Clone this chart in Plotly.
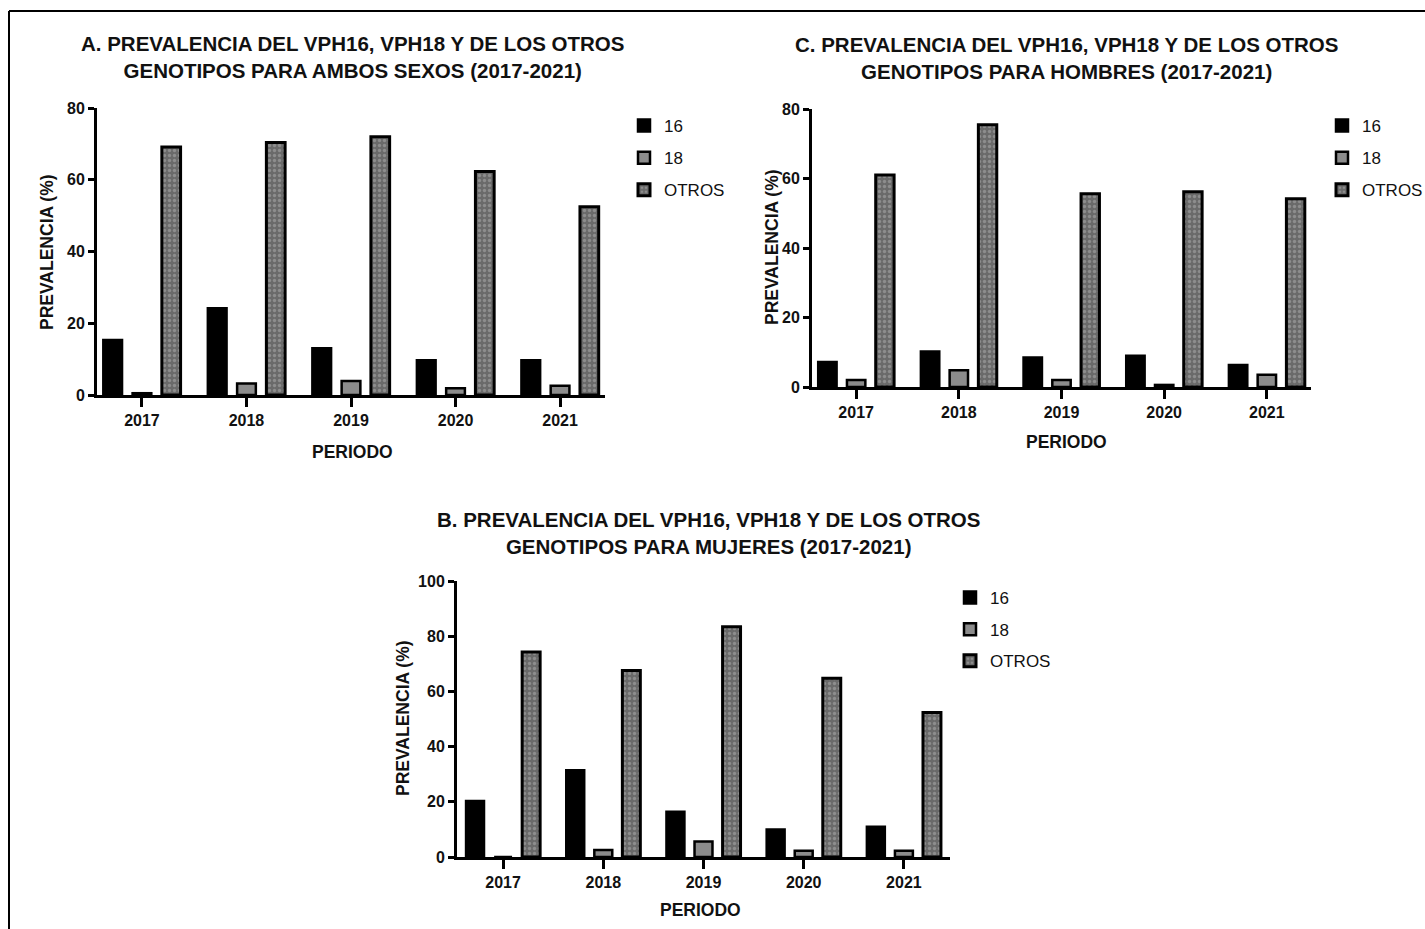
import plotly.graph_objects as go

years = ["2017", "2018", "2019", "2020", "2021"]
series_names = ["16", "18", "OTROS"]

# Panel A: ambos sexos
a_16 = [15.3, 24.2, 13.0, 9.7, 9.7]
a_18 = [0.5, 3.2, 3.9, 1.9, 2.6]
a_otros = [69.1, 70.4, 72.0, 62.3, 52.5]

# Panel C: hombres
c_16 = [7.2, 10.2, 8.5, 9.0, 6.3]
c_18 = [2.0, 4.8, 2.0, 0.6, 3.5]
c_otros = [61.0, 75.5, 55.6, 56.2, 54.2]

# Panel B: mujeres
b_16 = [20.3, 31.4, 16.4, 10.0, 11.0]
b_18 = [0.0, 2.5, 5.6, 2.3, 2.3]
b_otros = [74.3, 67.6, 83.4, 64.8, 52.4]

title_a = "A. PREVALENCIA DEL VPH16, VPH18 Y DE LOS OTROS<br>GENOTIPOS PARA AMBOS SEXOS (2017-2021)"
title_c = "C. PREVALENCIA DEL VPH16, VPH18 Y DE LOS OTROS<br>GENOTIPOS PARA HOMBRES (2017-2021)"
title_b = "B. PREVALENCIA DEL VPH16, VPH18 Y DE LOS OTROS<br>GENOTIPOS PARA MUJERES (2017-2021)"
y_title = "PREVALENCIA (%)"
x_title = "PERIODO"

W, H = 1425, 929
FONT = "Liberation Sans, Arial, sans-serif"

def px(x):
    return x / W

def py(y):
    return 1 - y / H

styles = [
    dict(color="#000000", line=dict(color="#000000", width=2.5)),
    dict(color="#8c8c8c", line=dict(color="#000000", width=2.5)),
    dict(color="#6a6a6a", line=dict(color="#000000", width=3),
         pattern=dict(shape=".", fgcolor="#b0b0b0", bgcolor="#6a6a6a", size=5, solidity=0.35)),
]

fig = go.Figure()

panels = [
    ([a_16, a_18, a_otros], "x", "y", "legend"),
    ([c_16, c_18, c_otros], "x2", "y2", "legend2"),
    ([b_16, b_18, b_otros], "x3", "y3", "legend3"),
]

for data, xa, ya, lg in panels:
    for name, vals, st in zip(series_names, data, styles):
        fig.add_trace(go.Bar(
            x=years, y=vals, name=name, marker=st,
            xaxis=xa, yaxis=ya, legend=lg, legendgroup=lg + name,
            hoverinfo="skip",
        ))

tickfont = dict(family=FONT, size=16, color="#111111", weight="bold")

def xaxis(domain, rng):
    return dict(domain=domain, range=rng, type="category", showline=True, linewidth=3,
                linecolor="#000000", ticks="outside", ticklen=9, tickwidth=3,
                tickcolor="#000000", tickfont=tickfont, showgrid=False, zeroline=False,
                fixedrange=True, automargin=False)

def yaxis(domain, rng, anchor, dtick):
    return dict(domain=domain, range=rng, anchor=anchor, showline=True, linewidth=3,
                linecolor="#000000", ticks="outside", ticklen=6, tickwidth=3,
                tickcolor="#000000", tickfont=tickfont, showgrid=False, zeroline=False,
                dtick=dtick, tick0=0, fixedrange=True, automargin=False)

layout = dict(
    width=W, height=H,
    margin=dict(l=0, r=0, t=0, b=0, pad=0, autoexpand=False),
    paper_bgcolor="white", plot_bgcolor="white",
    barmode="group", bargap=0.16, bargroupgap=0.36,
    showlegend=True,
    xaxis=xaxis([px(97), px(605)], [-0.43, 4.43]) | dict(anchor="y"),
    yaxis=yaxis([py(395), py(108)], [0, 80], "x", 20),
    xaxis2=xaxis([px(812), px(1311)], [-0.43, 4.43]) | dict(anchor="y2"),
    yaxis2=yaxis([py(387), py(109)], [0, 80], "x2", 20),
    xaxis3=xaxis([px(457), px(950)], [-0.46, 4.46]) | dict(anchor="y3"),
    yaxis3=yaxis([py(857), py(581)], [0, 100], "x3", 20),
)

def legend(x, y, gap):
    return dict(x=x, y=y, xanchor="left", yanchor="top", bgcolor="rgba(0,0,0,0)",
                font=dict(family=FONT, size=17, color="#111111"), tracegroupgap=gap,
                itemclick=False, itemdoubleclick=False)

layout["legend"] = legend(px(624), py(108), 7)
layout["legend2"] = legend(px(1322), py(108), 7)
layout["legend3"] = legend(px(950), py(580), 6.5)

fig.update_layout(**layout)

annotations = []
for text, cx, cy in [(title_a, 352, 57), (title_c, 1066, 58), (title_b, 708, 533)]:
    annotations.append(dict(text=text, x=px(cx), y=py(cy), xref="paper", yref="paper",
                            showarrow=False, xanchor="center", yanchor="middle",
                            font=dict(family=FONT, size=20.5, color="#111111", weight="bold")))
for cx, cy in [(47, 252), (772, 247), (403, 718)]:
    annotations.append(dict(text=y_title, x=px(cx), y=py(cy), xref="paper", yref="paper",
                            showarrow=False, textangle=-90, xanchor="center", yanchor="middle",
                            font=dict(family=FONT, size=17.5, color="#111111", weight="bold")))
for cx, cy in [(352, 452), (1066, 442), (700, 910)]:
    annotations.append(dict(text=x_title, x=px(cx), y=py(cy), xref="paper", yref="paper",
                            showarrow=False, xanchor="center", yanchor="middle",
                            font=dict(family=FONT, size=17.5, color="#111111", weight="bold")))
fig.update_layout(annotations=annotations)

# outer frame (left and top edges)
fig.add_shape(type="line", xref="paper", yref="paper", x0=px(9), x1=px(9), y0=0, y1=py(11),
              line=dict(color="#000000", width=2))
fig.add_shape(type="line", xref="paper", yref="paper", x0=px(9), x1=1, y0=py(11), y1=py(11),
              line=dict(color="#000000", width=2))

fig.write_html("out.html", config={"displayModeBar": False},
               post_script="document.body.style.margin='0';")
